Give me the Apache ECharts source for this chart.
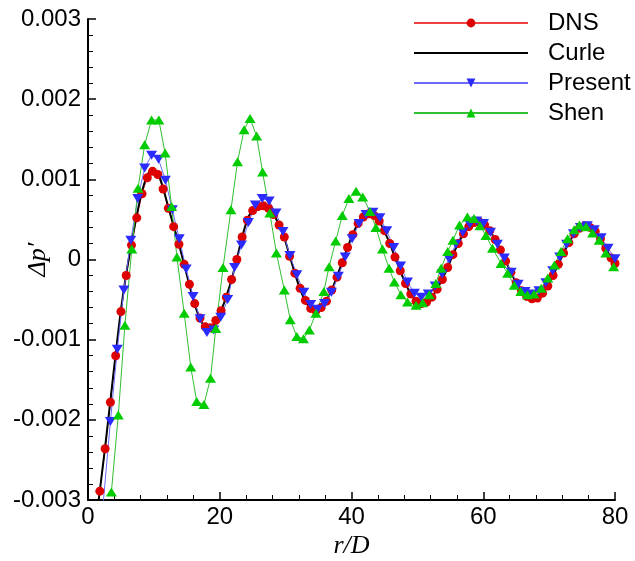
<!DOCTYPE html>
<html><head><meta charset="utf-8">
<script src="https://cdn.jsdelivr.net/npm/echarts@6/dist/echarts.min.js"></script>
<style>html,body{margin:0;padding:0;background:#fff}#c{width:635px;height:561px}</style>
</head><body><div id="c"></div>
<script>
// values of Δp' are in units of 1e-3
const seriesNames = ['DNS', 'Curle', 'Present', 'Shen'];
const yTickLabels = ['-0.003', '-0.002', '-0.001', '0', '0.001', '0.002', '0.003'];
const xTickLabels = ['0', '20', '40', '60', '80'];

const dnsR = [1.8,2.6,3.4,4.2,5.0,5.8,6.6,7.4,8.2,9.0,9.8,10.6,11.4,12.2,13.0,13.8,14.6,15.4,16.2,17.0,17.8,18.6,19.4,20.2,21.0,21.8,22.6,23.4,24.2,25.0,25.8,26.6,27.4,28.2,29.0,29.8,30.6,31.4,32.2,33.0,33.8,34.6,35.4,36.2,37.0,37.8,38.6,39.4,40.2,41.0,41.8,42.6,43.4,44.2,45.0,45.8,46.6,47.4,48.2,49.0,49.8,50.6,51.4,52.2,53.0,53.8,54.6,55.4,56.2,57.0,57.8,58.6,59.4,60.2,61.0,61.8,62.6,63.4,64.2,65.0,65.8,66.6,67.4,68.2,69.0,69.8,70.6,71.4,72.2,73.0,73.8,74.6,75.4,76.2,77.0,77.8,78.6,79.4,80.0];
const dnsV = [-2.89,-2.36,-1.78,-1.20,-0.65,-0.20,0.18,0.52,0.82,1.02,1.10,1.06,0.88,0.64,0.41,0.19,-0.06,-0.31,-0.55,-0.73,-0.84,-0.85,-0.76,-0.64,-0.47,-0.25,0.00,0.28,0.49,0.61,0.66,0.67,0.64,0.56,0.43,0.28,0.04,-0.17,-0.36,-0.51,-0.61,-0.64,-0.60,-0.52,-0.38,-0.22,-0.04,0.15,0.31,0.45,0.53,0.57,0.55,0.48,0.36,0.20,0.03,-0.14,-0.30,-0.43,-0.52,-0.55,-0.53,-0.47,-0.37,-0.25,-0.10,0.06,0.20,0.32,0.41,0.46,0.47,0.43,0.36,0.25,0.12,-0.02,-0.16,-0.29,-0.39,-0.46,-0.49,-0.48,-0.42,-0.33,-0.20,-0.06,0.08,0.21,0.32,0.39,0.42,0.40,0.35,0.26,0.14,0.02,-0.05];

const curleR = [1.5,1.8,2.6,3.4,4.2,5.0,5.8,6.6,7.4,8.2,9.0,9.8,10.6,11.4,12.2,13.0,13.8,14.6,15.4,16.2,17.0,17.8,18.6,19.4,20.2,21.0,21.8,22.6,23.4,24.2,25.0,25.8,26.6,27.4,28.2,29.0,29.8,30.6,31.4,32.2,33.0,33.8,34.6,35.4,36.2,37.0,37.8,38.6,39.4,40.2,41.0,41.8,42.6,43.4,44.2,45.0,45.8,46.6,47.4,48.2,49.0,49.8,50.6,51.4,52.2,53.0,53.8,54.6,55.4,56.2,57.0,57.8,58.6,59.4,60.2,61.0,61.8,62.6,63.4,64.2,65.0,65.8,66.6,67.4,68.2,69.0,69.8,70.6,71.4,72.2,73.0,73.8,74.6,75.4,76.2,77.0,77.8,78.6,79.4,80.0];
const curleV = [-3.08,-2.88,-2.34,-1.76,-1.18,-0.63,-0.18,0.20,0.55,0.85,1.05,1.13,1.08,0.89,0.65,0.42,0.19,-0.06,-0.32,-0.56,-0.74,-0.85,-0.86,-0.78,-0.64,-0.46,-0.25,0.01,0.28,0.50,0.62,0.67,0.68,0.64,0.56,0.43,0.27,0.05,-0.17,-0.37,-0.52,-0.61,-0.64,-0.60,-0.51,-0.38,-0.21,-0.03,0.15,0.32,0.45,0.54,0.57,0.55,0.48,0.35,0.20,0.03,-0.14,-0.30,-0.43,-0.51,-0.55,-0.53,-0.46,-0.37,-0.24,-0.10,0.06,0.20,0.32,0.41,0.46,0.47,0.43,0.36,0.25,0.12,-0.02,-0.16,-0.29,-0.39,-0.45,-0.48,-0.47,-0.42,-0.33,-0.20,-0.06,0.08,0.21,0.32,0.39,0.42,0.40,0.34,0.26,0.14,0.02,-0.04];

const presentR = [2.3,3.4,4.45,5.45,6.5,7.55,8.6,9.65,10.7,11.75,12.8,13.85,14.9,15.95,17.0,18.05,19.1,20.15,21.2,22.25,23.3,24.35,25.4,26.45,27.5,28.55,29.6,30.65,31.7,32.75,33.8,34.85,35.9,36.95,38.0,39.05,40.1,41.15,42.2,43.25,44.3,45.35,46.4,47.45,48.5,49.55,50.6,51.65,52.7,53.75,54.8,55.85,56.9,57.95,59.0,60.05,61.1,62.15,63.2,64.25,65.3,66.35,67.4,68.45,69.5,70.55,71.6,72.65,73.7,74.75,75.8,76.85,77.9,78.95,80.0];
const presentV = [-3.05,-2.02,-1.12,-0.38,0.24,0.76,1.14,1.30,1.25,0.99,0.62,0.26,-0.12,-0.46,-0.74,-0.91,-0.88,-0.72,-0.50,-0.10,0.18,0.46,0.68,0.76,0.73,0.58,0.35,0.05,-0.19,-0.41,-0.56,-0.62,-0.55,-0.41,-0.21,0.03,0.26,0.45,0.56,0.59,0.52,0.36,0.15,-0.08,-0.28,-0.42,-0.47,-0.43,-0.33,-0.18,0.01,0.19,0.34,0.44,0.48,0.45,0.34,0.19,0.02,-0.16,-0.31,-0.40,-0.43,-0.39,-0.29,-0.14,0.03,0.19,0.32,0.40,0.42,0.37,0.27,0.14,0.01];

const shenR = [3.55,4.6,5.6,6.65,7.6,8.6,9.65,10.75,11.7,12.7,13.5,14.6,15.6,16.5,17.6,18.6,19.4,20.5,21.7,22.7,23.7,24.6,25.6,26.5,27.6,28.6,29.8,30.7,31.7,32.7,33.6,34.6,35.8,36.6,37.6,38.6,39.6,40.7,41.7,42.8,43.7,44.7,45.7,46.5,47.5,48.5,49.8,50.8,51.8,52.8,53.6,54.6,55.4,56.4,57.6,58.6,59.5,60.4,61.4,62.7,63.7,64.7,65.7,66.7,67.7,68.8,69.8,70.8,71.8,72.8,73.8,74.6,75.6,76.6,77.6,78.6,79.8];
const shenV = [-2.90,-1.94,-0.82,0.13,0.89,1.43,1.74,1.74,1.33,0.66,0.03,-0.67,-1.34,-1.77,-1.81,-1.48,-0.86,-0.10,0.62,1.22,1.62,1.76,1.54,1.09,0.58,0.08,-0.38,-0.75,-0.96,-0.99,-0.88,-0.67,-0.40,-0.09,0.23,0.55,0.76,0.85,0.78,0.60,0.40,0.13,-0.11,-0.28,-0.44,-0.53,-0.57,-0.54,-0.44,-0.30,-0.11,0.10,0.24,0.43,0.53,0.51,0.42,0.30,0.14,-0.05,-0.17,-0.32,-0.40,-0.44,-0.43,-0.36,-0.23,-0.07,0.10,0.26,0.37,0.43,0.41,0.33,0.24,0.08,-0.09];

const zip = (a, b) => a.map((x, i) => [x, b[i]]);

const chart = echarts.init(document.getElementById('c'), null, {renderer: 'canvas'});
const sans = '"Liberation Sans", Arial, sans-serif';
const serif = '"Liberation Serif", "Times New Roman", serif';
const axisFont = {fontFamily: sans, fontSize: 24, color: '#000'};
chart.setOption({
  animation: false,
  backgroundColor: '#fff',
  grid: {left: 88, right: 20, top: 19, bottom: 61, containLabel: false, outerBoundsMode: 'none'},
  legend: {
    orient: 'vertical', left: 413, top: 11, padding: 0,
    itemWidth: 114, itemHeight: 11, itemGap: 6,
    data: [
      {name: seriesNames[0]},
      {name: seriesNames[1], itemStyle: {opacity: 0}},
      {name: seriesNames[2]},
      {name: seriesNames[3]}
    ],
    textStyle: {fontFamily: sans, fontSize: 24, color: '#000', lineHeight: 24, padding: [0, 0, 0, 15]}
  },
  xAxis: {
    type: 'value', min: 0, max: 80, interval: 20,
    name: 'r/D', nameLocation: 'middle', nameGap: 33, nameMoveOverlap: false,
    nameTextStyle: {fontFamily: serif, fontStyle: 'italic', fontSize: 26, color: '#000'},
    axisLine: {onZero: false, lineStyle: {color: '#000', width: 2}},
    axisTick: {inside: true, length: 8, lineStyle: {color: '#000', width: 1.5}},
    minorTick: {show: true, splitNumber: 5, length: 5, lineStyle: {color: '#000', width: 1}},
    axisLabel: Object.assign({margin: 5, formatter: v => xTickLabels[Math.round(v / 20)]}, axisFont),
    splitLine: {show: false}
  },
  yAxis: {
    type: 'value', min: -3, max: 3, interval: 1,
    name: 'Δp′', nameLocation: 'middle', nameGap: 37, nameRotate: 90, nameMoveOverlap: false,
    nameTextStyle: {fontFamily: serif, fontStyle: 'italic', fontSize: 26, color: '#000'},
    axisLine: {onZero: false, lineStyle: {color: '#000', width: 2}},
    axisTick: {inside: true, length: 8, lineStyle: {color: '#000', width: 1.5}},
    minorTick: {show: true, splitNumber: 5, length: 5, lineStyle: {color: '#000', width: 1}},
    axisLabel: Object.assign({margin: 7, formatter: v => yTickLabels[Math.round(v) + 3]}, axisFont),
    splitLine: {show: false}
  },
  series: [
    {name: seriesNames[0], type: 'line', data: zip(dnsR, dnsV), clip: true,
     symbol: 'circle', symbolSize: 9, showAllSymbol: true,
     lineStyle: {color: '#f04040', width: 1}, itemStyle: {color: '#dd0000'}},
    {name: seriesNames[1], type: 'line', data: zip(curleR, curleV), clip: true, smooth: 0.3,
     symbol: 'none', lineStyle: {color: '#000', width: 2}, itemStyle: {color: '#000'}},
    {name: seriesNames[2], type: 'line', data: zip(presentR, presentV), clip: true,
     symbol: 'triangle', symbolRotate: 180, symbolSize: [11, 9], showAllSymbol: true,
     lineStyle: {color: '#6a6aff', width: 1}, itemStyle: {color: '#2b2bff'}},
    {name: seriesNames[3], type: 'line', data: zip(shenR, shenV), clip: true,
     symbol: 'triangle', symbolSize: [11, 9], showAllSymbol: true,
     lineStyle: {color: '#30c030', width: 1}, itemStyle: {color: '#00cc00'}}
  ]
});
</script>
</body></html>
